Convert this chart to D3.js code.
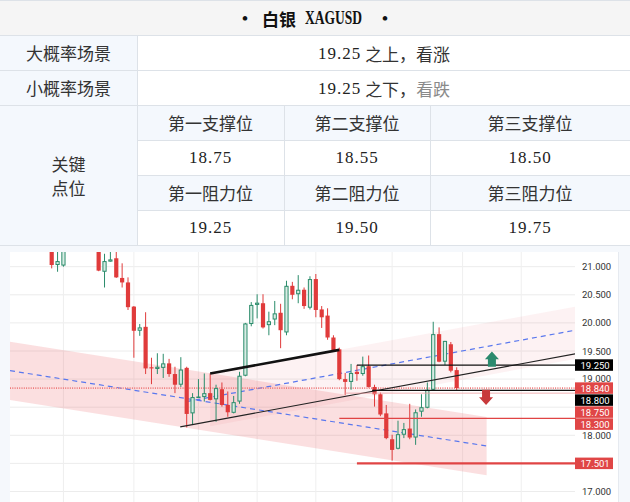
<!DOCTYPE html>
<html><head><meta charset="utf-8">
<script src="https://cdn.jsdelivr.net/npm/d3@7"></script>
<style>html,body{margin:0;padding:0;background:#f5f8fc;} svg{display:block;}</style>
</head><body>
<svg id="c" width="630" height="502"></svg>
<script>
// ---------------- DATA ----------------
const titleName = "白银";
const titleCode = "XAGUSD";
const scenarioLabels = ["大概率场景", "小概率场景"];
const scenarioLevel = ["19.25", "19.25"];
const scenarioWords = ["之上，看涨", "之下，"];
const scenarioTail = ["", "看跌"];
const keyLabel = ["关键", "点位"];
const supportNames = ["第一支撑位", "第二支撑位", "第三支撑位"];
const supportValues = ["18.75", "18.55", "18.50"];
const resistNames = ["第一阻力位", "第二阻力位", "第三阻力位"];
const resistValues = ["19.25", "19.50", "19.75"];

// candle data (index 0..69), null = out of view
const opens  = [21.45,21.03,21.02,null,null,null,null,null,21.50,20.91,21.09,21.15,20.80,20.72,20.29,19.86,19.93,19.21,19.18,19.20,19.28,19.09,18.90,19.20,18.39,18.68,18.68,18.75,18.64,18.82,18.54,18.40,18.60,19.06,19.98,20.32,20.35,19.96,20.06,20.18,19.83,20.66,20.51,20.59,20.27,20.78,20.24,20.13,19.74,19.53,19.00,18.95,19.13,19.09,19.23,18.86,18.73,18.39,17.93,17.76,18.01,18.12,17.96,18.42,18.49,18.81,19.80,19.31,19.62,19.16];
const highs  = [21.55,21.35,21.50,null,null,null,null,null,21.55,21.23,21.30,21.30,21.06,20.81,20.30,19.98,20.19,19.38,19.46,19.45,19.36,19.22,19.39,19.22,18.75,19.00,19.10,19.10,18.90,18.94,18.78,18.70,19.13,20.00,20.37,20.51,20.51,20.20,20.39,20.34,20.75,20.73,20.85,20.63,20.83,20.87,20.30,20.26,19.78,19.56,19.11,19.27,19.25,19.40,19.42,18.90,18.76,18.54,18.01,18.26,18.22,18.56,18.46,18.73,18.94,20.02,19.92,19.68,19.66,19.21];
const lows   = [20.97,20.91,21.00,null,null,null,null,null,20.92,20.63,21.09,20.80,20.63,20.23,19.38,19.77,19.09,18.91,19.09,19.02,19.04,18.75,18.86,18.14,18.19,18.67,18.60,18.62,18.24,18.51,18.33,18.39,18.56,19.05,19.94,20.08,19.90,19.78,19.96,19.55,19.78,20.42,20.35,20.25,20.24,20.10,19.91,19.70,19.49,18.98,18.72,18.81,18.97,19.06,18.85,18.51,18.34,17.93,17.55,17.75,17.95,17.93,17.83,18.33,18.48,18.79,19.30,19.25,19.12,18.79];
const closes = [21.03,21.10,21.45,null,null,null,null,null,20.93,21.10,21.13,20.81,20.72,20.28,19.86,19.92,19.19,19.19,19.22,19.28,19.09,18.90,19.17,18.38,18.68,18.69,18.75,18.63,18.84,18.54,18.41,18.59,19.06,19.99,20.32,20.36,19.92,20.03,20.17,19.87,20.66,20.50,20.59,20.30,20.78,20.23,20.10,19.74,19.50,19.00,18.95,19.11,19.09,19.23,18.86,18.73,18.37,17.95,17.74,18.02,18.11,17.96,18.41,18.50,18.81,19.80,19.31,19.68,19.15,18.84];

const priceTicks = [21, 20.5, 20, 19.5, 19, 18, 17];
const gridPrices = [21, 20.5, 20, 19.5, 19, 18.5, 18, 17.5, 17];
const gridIndices = [2, 14, 25, 35, 45, 58, 70, 80];

// channels: [index, price] endpoints
const descTop = [[-7.1, 19.665], [74.1, 18.325]];
const descBottom = [[-7.1, 18.63], [74.1, 17.29]];
const descMid = [[-7.1, 19.15], [74.1, 17.81]];
const ascTop = [[27, 19.10], [89.2, 20.29]];
const ascBottom = [[27, 18.16], [89.2, 19.36]];
const ascUpperLine = [[27, 19.10], [49, 19.52]];
const ascLowerLine = [[21.9, 18.15], [89.2, 19.45]];
const ascMid = [[23, 18.60], [89.2, 19.87]];

// horizontal levels
const levelPrices = [19.25, 18.80, 18.75, 18.30, 17.501];
const levelStart = [52, 54.6, 50, 49, 52];
const levelKinds = ["black", "black", "faint", "red", "redThick"];
const currentPrice = 18.84;

// right-side price labels
const labelPrices = [19.25, 18.84, 18.80, 18.75, 18.30, 17.501];
const labelTexts = ["19.250", "18.840", "18.800", "18.750", "18.300", "17.501"];
const labelKinds = ["black", "red", "black", "red", "red", "red"];

// arrows
const arrowIdx = [75, 74];
const arrowFrom = [19.22, 18.81];
const arrowTo = [19.49, 18.54];
const arrowKinds = ["up", "down"];

// ---------------- DRAW ----------------
const svg = d3.select("#c");
const CJK = "'Noto Sans CJK SC', sans-serif";
const SERIF = "'Liberation Serif', 'Noto Sans CJK SC', serif";
const border = "#dde2e8";
const lightBlue = "#f4f8fd";

// ----- table -----
const T = svg.append("g");
const colX = [0, 137, 284, 430, 630];
const rowY = [0, 35, 70, 105, 140, 175, 210, 245];
T.append("rect").attr("x", 0).attr("y", 0).attr("width", 630).attr("height", 35).attr("fill", "#f5f5f5");
for (let r = 1; r <= 2; r++) {
  T.append("rect").attr("x", 0).attr("y", rowY[r]).attr("width", 137).attr("height", 35).attr("fill", lightBlue);
  T.append("rect").attr("x", 137).attr("y", rowY[r]).attr("width", 493).attr("height", 35).attr("fill", "#ffffff");
}
T.append("rect").attr("x", 0).attr("y", 105).attr("width", 137).attr("height", 140).attr("fill", lightBlue);
[3, 5].forEach(r => T.append("rect").attr("x", 137).attr("y", rowY[r]).attr("width", 493).attr("height", 35).attr("fill", lightBlue));
[4, 6].forEach(r => T.append("rect").attr("x", 137).attr("y", rowY[r]).attr("width", 493).attr("height", 35).attr("fill", "#ffffff"));

// borders
T.append("line").attr("x1", 0).attr("x2", 630).attr("y1", 0.5).attr("y2", 0.5).attr("stroke", border);
[35, 70, 105, 245].forEach(yy => T.append("line").attr("x1", 0).attr("x2", 630).attr("y1", yy + 0.5).attr("y2", yy + 0.5).attr("stroke", border));
[140, 175, 210].forEach(yy => T.append("line").attr("x1", 137).attr("x2", 630).attr("y1", yy + 0.5).attr("y2", yy + 0.5).attr("stroke", border));
T.append("line").attr("x1", 137.5).attr("x2", 137.5).attr("y1", 35).attr("y2", 245).attr("stroke", border);
[284, 430].forEach(xx => T.append("line").attr("x1", xx + 0.5).attr("x2", xx + 0.5).attr("y1", 105).attr("y2", 245).attr("stroke", border));

// title
[245, 385].forEach(bx => T.append("text").attr("x", bx).attr("y", 18).attr("text-anchor", "middle").attr("dominant-baseline", "central")
  .attr("font-family", "'Liberation Serif', serif").attr("font-size", 17).attr("font-weight", 700).attr("fill", "#111").text("•"));
T.append("text").attr("x", 262).attr("y", 18).attr("dominant-baseline", "central")
  .attr("font-family", CJK).attr("font-size", 17).attr("font-weight", 700).attr("fill", "#111").text(titleName);
T.append("text").attr("transform", "translate(305,18) scale(0.75,1)").attr("dominant-baseline", "central")
  .attr("font-family", "'Liberation Serif', serif").attr("font-size", 18).attr("font-weight", 700).attr("fill", "#111")
  .text(titleCode);

// scenario rows
scenarioLabels.forEach((s, k) => {
  const cy = rowY[k + 1] + 17.5;
  T.append("text").attr("x", 68.5).attr("y", cy).attr("text-anchor", "middle").attr("dominant-baseline", "central")
    .attr("font-family", CJK).attr("font-size", 17).attr("fill", "#333").text(s);
  const t = T.append("text").attr("x", 384).attr("y", cy).attr("text-anchor", "middle").attr("dominant-baseline", "central")
    .attr("font-family", SERIF).attr("font-size", 17).attr("fill", "#222");
  t.append("tspan").attr("letter-spacing", 1).text(scenarioLevel[k]);
  t.append("tspan").attr("dx", 4).attr("font-family", CJK).attr("fill", "#333").text(scenarioWords[k]);
  if (scenarioTail[k]) t.append("tspan").attr("font-family", CJK).attr("fill", "#8a8a8a").text(scenarioTail[k]);
});

// key levels
keyLabel.forEach((s, k) => {
  T.append("text").attr("x", 68.5).attr("y", 163.5 + k * 23.5).attr("text-anchor", "middle").attr("dominant-baseline", "central")
    .attr("font-family", CJK).attr("font-size", 17).attr("fill", "#333").text(s);
});
[supportNames, supportValues, resistNames, resistValues].forEach((arr, r) => {
  const cy = rowY[3 + r] + 17.5;
  arr.forEach((s, c) => {
    const cx = (colX[c + 1] + colX[c + 2]) / 2;
    const isNum = r % 2 === 1;
    T.append("text").attr("x", cx).attr("y", cy).attr("text-anchor", "middle").attr("dominant-baseline", "central")
      .attr("font-family", isNum ? SERIF : CJK).attr("font-size", 17).attr("fill", isNum ? "#222" : "#333")
      .attr("letter-spacing", isNum ? 1 : 0).text(s);
  });
});

// ----- chart -----
const C = svg.append("g");
C.append("rect").attr("x", 10).attr("y", 252).attr("width", 608).attr("height", 250).attr("fill", "#ffffff");
C.append("line").attr("x1", 618.5).attr("x2", 618.5).attr("y1", 252).attr("y2", 502).attr("stroke", "#e6eaf0");

const x = d3.scaleLinear().domain([0, 69]).range([51.7, 456.7]);
const y = d3.scaleLinear().domain([17, 21]).range([491.5, 266.7]);

svg.append("defs").append("clipPath").attr("id", "plot")
  .append("rect").attr("x", 10).attr("y", 252).attr("width", 565).attr("height", 250);
const P = C.append("g").attr("clip-path", "url(#plot)");

// grid
P.selectAll(".hg").data(gridPrices).enter().append("line")
  .attr("x1", 10).attr("x2", 575).attr("y1", d => y(d)).attr("y2", d => y(d))
  .attr("stroke", "#ececec").attr("stroke-width", 1);
P.selectAll(".vg").data(gridIndices).enter().append("line")
  .attr("x1", d => x(d)).attr("x2", d => x(d)).attr("y1", 252).attr("y2", 502)
  .attr("stroke", "#efefef").attr("stroke-width", 1);

function band(top, bot, color, op) {
  const pts = [[x(top[0][0]), y(top[0][1])], [x(top[1][0]), y(top[1][1])], [x(bot[1][0]), y(bot[1][1])], [x(bot[0][0]), y(bot[0][1])]];
  P.append("path").attr("d", d3.line()(pts) + "Z").attr("fill", color).attr("fill-opacity", op);
}
band(descTop, descBottom, "#e8545c", 0.19);
band(ascTop, ascBottom, "#e8545c", 0.075);

function seg(pts, stroke, w, dash) {
  const l = P.append("line").attr("x1", x(pts[0][0])).attr("y1", y(pts[0][1])).attr("x2", x(pts[1][0])).attr("y2", y(pts[1][1]))
    .attr("stroke", stroke).attr("stroke-width", w);
  if (dash) l.attr("stroke-dasharray", dash);
  return l;
}
seg(descMid, "#5a78ee", 1.2, "5,4");
seg(ascMid, "#5a78ee", 1.2, "5,4");

// current price dotted line
P.append("line").attr("x1", 10).attr("x2", 575).attr("y1", y(currentPrice)).attr("y2", y(currentPrice))
  .attr("stroke", "#ee7b7b").attr("stroke-width", 1.6).attr("stroke-dasharray", "1,1.3");

// candles
const candles = opens.map((o, i) => ({ i, o, h: highs[i], l: lows[i], c: closes[i] })).filter(d => d.o !== null);
const bull = "#2b8c6b", bullFill = "#d8ece4", bear = "#e03b3b";
const bw = 4.2;
const cg = P.append("g");
candles.forEach(d => {
  const up = d.c >= d.o;
  cg.append("line").attr("x1", x(d.i)).attr("x2", x(d.i)).attr("y1", y(d.h)).attr("y2", y(d.l))
    .attr("stroke", up ? bull : bear).attr("stroke-width", 1);
  const top = y(Math.max(d.o, d.c)), bot = y(Math.min(d.o, d.c));
  const hgt = Math.max(1, bot - top);
  if (up) {
    cg.append("rect").attr("x", x(d.i) - bw / 2 + 0.5).attr("y", top + 0.5).attr("width", bw - 1).attr("height", Math.max(0.5, hgt - 1))
      .attr("fill", bullFill).attr("stroke", bull).attr("stroke-width", 1);
  } else {
    cg.append("rect").attr("x", x(d.i) - bw / 2).attr("y", top).attr("width", bw).attr("height", hgt).attr("fill", bear);
  }
});

// trend lines
seg(ascUpperLine, "#111", 2.6);
seg(ascLowerLine, "#222", 1.1);

// horizontal levels
levelPrices.forEach((p, k) => {
  const kind = levelKinds[k];
  const st = { black: ["#111", 1.3, 1], faint: ["#f0a0a4", 1, 0.8], red: ["#e04444", 1.2, 1], redThick: ["#e04444", 2.2, 1] }[kind];
  C.append("line").attr("x1", x(levelStart[k])).attr("x2", 576).attr("y1", y(p)).attr("y2", y(p))
    .attr("stroke", st[0]).attr("stroke-width", st[1]).attr("opacity", st[2]);
});

// arrows
arrowIdx.forEach((ai, k) => {
  const cx = x(ai), y0 = y(arrowFrom[k]), y1 = y(arrowTo[k]);
  const mid = (y0 + y1) / 2;
  const hw = 7, sw = 4;
  const pts = [[cx, y1], [cx + hw, mid], [cx + sw, mid], [cx + sw, y0], [cx - sw, y0], [cx - sw, mid], [cx - hw, mid]];
  C.append("path").attr("d", d3.line()(pts) + "Z").attr("fill", arrowKinds[k] === "up" ? "#2b8a6e" : "#c8393b");
});

// axis tick labels
C.selectAll(".tick").data(priceTicks).enter().append("text")
  .attr("x", 582).attr("y", d => y(d) - (d === 19 ? 0.8 : 0)).attr("dominant-baseline", "central")
  .attr("font-family", "Roboto, sans-serif").attr("font-size", 9.5).attr("fill", "#333")
  .text(d => d3.format(".3f")(d));

// price labels with collision push-down
const labs = labelPrices.map((p, k) => ({ p, t: labelTexts[k], kind: labelKinds[k], cy: y(p) })).sort((a, b) => a.cy - b.cy);
for (let k = 1; k < labs.length; k++) if (labs[k].cy < labs[k - 1].cy + 12) labs[k].cy = labs[k - 1].cy + 12;
labs.forEach(l => {
  C.append("rect").attr("x", 575).attr("y", l.cy - 5.75).attr("width", 38).attr("height", 11.5)
    .attr("fill", l.kind === "black" ? "#000" : "#e04646");
  C.append("text").attr("x", 580.5).attr("y", l.cy + 0.3).attr("dominant-baseline", "central")
    .attr("font-family", "Roboto, sans-serif").attr("font-size", 9.5).attr("fill", "#fff").text(l.t);
});
</script>
</body></html>
